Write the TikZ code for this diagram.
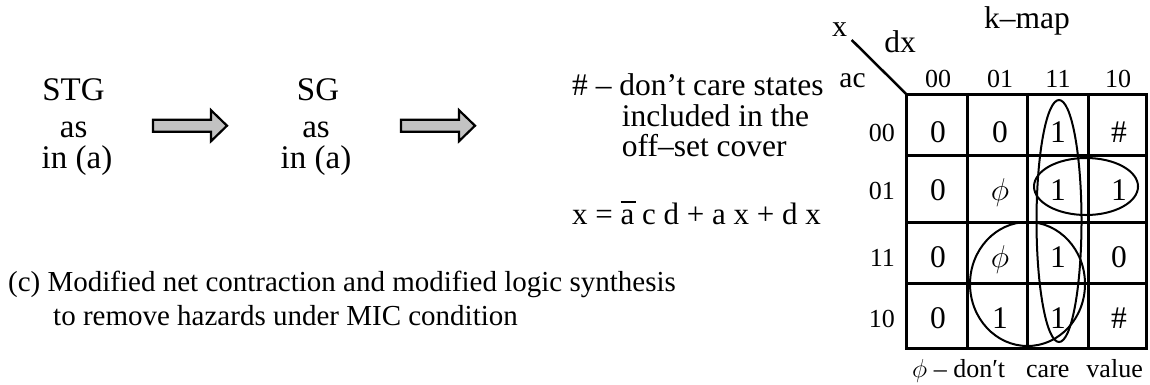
\RequirePackage{fix-cm}
\documentclass[tikz,border=0pt]{standalone}
\usepackage{fontspec}
\setmainfont{Liberation Serif}
\begin{document}
\begin{tikzpicture}[x=1pt,y=-1pt,
  txt/.style={inner sep=0pt, anchor=base, font=\fontsize{31.5}{34}\selectfont},
  big/.style={txt, font=\fontsize{33}{35}\selectfont},
  txtw/.style={txt, anchor=base west},
  small/.style={inner sep=0pt, anchor=base, font=\fontsize{26}{28}\selectfont},
  cell/.style={inner sep=0pt, anchor=base, font=\fontsize{31.5}{33}\selectfont},
  blockarrow/.style={draw=black, line width=2.2pt, fill=black!24, line join=miter},
  gridline/.style={line width=3pt, line cap=rect},
  loop/.style={line width=2pt},
]
\useasboundingbox[fill=white] (0,0) rectangle (1150,384);

% left: transformation steps
\node[big] (stg)  at (73.5,100.7) {STG};
\node[big] (as1)  at (73.7,137)   {as};
\node[big] (in1)  at (77,168)     {in (a)};
\node[big] (sg)   at (318,100.7)  {SG};
\node[big] (as2)  at (316,137)    {as};
\node[big] (in2)  at (316,168)    {in (a)};

% block arrows between the steps (tail point, shaft 12, head 31 wide)
\coordinate (ar1) at (153,125.7);
\coordinate (ar2) at (401,125.7);
\foreach \a in {ar1,ar2}
  \draw[blockarrow] (\a) ++(0,-6) -- ++(58,0) -- ++(0,-9.5) -- ++(16,15.5)
    -- ++(-16,15.5) -- ++(0,-9.5) -- ++(-58,0) -- cycle;

% note and cover equation
\node[txtw] (dc1) at (572,95)    {\# – don’t care states};
\node[txtw] (dc2) at (621.7,126.7) {included in the};
\node[txtw] (dc3) at (621.7,156.7) {off–set cover};
\node[txtw, font=\fontsize{31}{33}\selectfont] (eq) at (572,224)
  {x = \rlap{\rule[0.69em]{0.48em}{0.065em}}a c d + a x + d x};

% caption
\node[txtw, font=\fontsize{29}{31}\selectfont] (cap1) at (8,291.5)
  {(c) Modified net contraction and modified logic synthesis};
\node[txtw, font=\fontsize{29}{31}\selectfont] (cap2) at (53,325)
  {to remove hazards under MIC condition};

% k-map grid
\coordinate (corner) at (906.7,94.5);
\coordinate (tick) at (851.7,40);
\draw[gridline] (906.7,94.5) rectangle (1146.7,348.7);
\foreach \xx in {967.7,1027.7,1088.3}
  \draw[gridline] (\xx,94.5) -- (\xx,348.7);
\foreach \yy in {155.5,222,283.5}
  \draw[gridline] (906.7,\yy) -- (1146.7,\yy);
\draw[line width=2.5pt] (corner) -- (tick);

% k-map labels
\node[txt, font=\fontsize{30}{32}\selectfont] (kx) at (839.5,36) {x};
\node[txt] (kdx) at (900,52) {dx};
\node[txt, font=\fontsize{29.5}{32}\selectfont] (kac) at (852.5,87) {ac};
\node[txt] (ktitle) at (1027,28) {k–map};
\foreach \lab/\xx in {00/938,01/1000,11/1058,10/1118}
  \node[small] (c\lab) at (\xx,87) {\lab};
\foreach \lab/\yy in {00/141.5,01/199.5,11/266.5,10/327.5}
  \node[small, anchor=base east] (r\lab) at (895,\yy) {\lab};

% k-map entries, row by row
\foreach \row/\yy/\a/\b/\c/\d in {0/142.5/0/0/1/\#, 1/200.5/0/$\phi$/1/1,
                                  2/267.5/0/$\phi$/1/0, 3/328.5/0/1/1/\#} {
  \node[cell] (m\row1) at (938,\yy)  {\a};
  \node[cell] (m\row2) at (1000,\yy) {\b};
  \node[cell] (m\row3) at (1058,\yy) {\c};
  \node[cell] (m\row4) at (1119,\yy) {\d};
}

% prime implicant loops
\draw[loop] (1059,221) ellipse [x radius=22.5pt, y radius=121pt];
\draw[loop] (1086,186.5) ellipse [x radius=52pt, y radius=28.5pt];
\draw[loop] (1027.5,284) ellipse [x radius=57.5pt, y radius=62pt];

% legend under the map
\node[small, anchor=base west] (leg) at (912,377)
  {$\phi$ – don′t\hspace*{21pt}care\hspace*{17pt}value};
\end{tikzpicture}
\end{document}
